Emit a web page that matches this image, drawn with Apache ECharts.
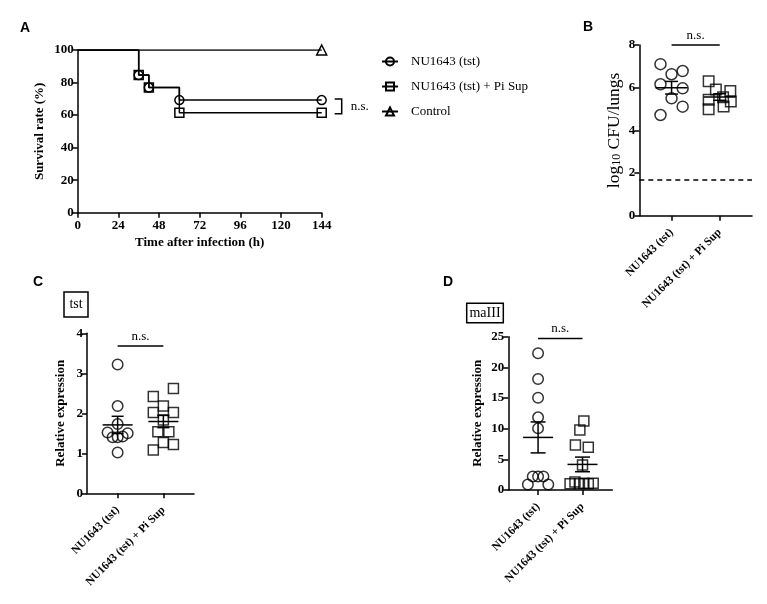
<!DOCTYPE html>
<html>
<head>
<meta charset="utf-8">
<script src="https://cdn.jsdelivr.net/npm/echarts@6/dist/echarts.min.js"></script>
<style>html,body{margin:0;padding:0;background:#fff}#c{width:767px;height:604px}</style>
</head>
<body>
<div id="c"></div>
<script>
// ---------- DATA ----------
const groupNames = ['NU1643 (tst)', 'NU1643 (tst) + Pi Sup'];
const survNames = ['NU1643 (tst)', 'NU1643 (tst) + Pi Sup', 'Control'];
const survTime = [0, 36, 42, 60, 144];
const survTst = [100, 84.6, 76.9, 69.2, 69.2];
const survPi = [100, 84.6, 76.9, 61.5, 61.5];
const ctrlTime = [0, 144];
const ctrlVal = [100, 100];
const survTicks = [0, 24, 48, 72, 96, 120, 144];

const bTstVals = [7.10, 6.63, 6.78, 6.16, 5.97, 5.50, 5.11, 4.72];
const bTstJit = [-0.23, 0, 0.23, -0.23, 0.23, 0, 0.23, -0.23];
const bPiVals = [6.30, 5.91, 5.85, 5.43, 5.55, 4.99, 5.12, 5.35];
const bPiJit = [-0.23, -0.08, 0.22, -0.23, 0.07, -0.23, 0.08, 0.23];
const bDetect = 1.7;

const cTstVals = [3.22, 2.18, 1.73, 1.52, 1.40, 1.40, 1.42, 1.50, 1.02];
const cTstJit = [0, 0, 0, -0.22, -0.11, 0, 0.11, 0.22, 0];
const cPiVals = [2.42, 2.62, 2.18, 2.02, 2.02, 1.83, 1.54, 1.54, 1.27, 1.22, 1.08];
const cPiJit = [-0.22, 0.22, 0, -0.22, 0.22, 0, -0.12, 0.12, 0, 0.22, -0.22];

const dTstVals = [22.3, 18.1, 15.05, 11.85, 10.05, 2.2, 2.2, 2.2, 0.9, 0.9];
const dTstJit = [0, 0, 0, 0, 0, -0.12, 0, 0.12, -0.23, 0.23];
const dPiVals = [11.25, 9.78, 7.34, 6.96, 4.07, 1.0, 1.3, 1.0, 1.1, 1.0, 1.1];
const dPiJit = [0.03, -0.06, -0.16, 0.13, 0, -0.28, -0.17, -0.07, 0.03, 0.13, 0.24];

// ---------- HELPERS ----------
const SERIF = "'Liberation Serif','Times New Roman',serif";
const SANS = "'Liberation Sans',Arial,sans-serif";
const BLACK = '#000';
function meanSem(a) {
  const n = a.length, m = a.reduce((s, v) => s + v, 0) / n;
  const sd = Math.sqrt(a.reduce((s, v) => s + (v - m) * (v - m), 0) / (n - 1));
  return [m, sd / Math.sqrt(n)];
}
function pts(center, jit, vals) { return vals.map((v, i) => [center + jit[i], v]); }

const lineAxis = {lineStyle: {color: BLACK, width: 1.5}};
const tickStyle = {show: true, length: 5, lineStyle: {color: BLACK, width: 1.5}};
const boldLbl = {color: BLACK, fontFamily: SERIF, fontWeight: 'bold', fontSize: 13};

function yAx(grid, max, interval, name, nameGap, nameStyle) {
  return {
    type: 'value', gridIndex: grid, min: 0, max: max, interval: interval,
    axisLine: {show: true, ...lineAxis}, axisTick: tickStyle,
    axisLabel: {...boldLbl, margin: 4}, splitLine: {show: false},
    name: name, nameLocation: 'middle', nameGap: nameGap, nameRotate: 90,
    nameTextStyle: nameStyle
  };
}
function catAx(grid) {
  return {
    type: 'value', gridIndex: grid, min: 0.33, max: 2.67,
    axisLine: {show: true, onZero: false, ...lineAxis},
    axisTick: {...tickStyle, customValues: [1, 2]},
    axisLabel: {...boldLbl, fontSize: 11.5, rotate: 45, margin: 15, customValues: [1, 2],
      formatter: v => (Math.abs(v - 1) < 0.01 ? groupNames[0] : groupNames[1])},
    splitLine: {show: false}
  };
}
function scatter(grid, data, sym, size) {
  return {
    type: 'scatter', xAxisIndex: grid, yAxisIndex: grid, data: data, symbol: sym, symbolSize: size,
    itemStyle: {color: 'rgba(0,0,0,0)', borderColor: BLACK, borderWidth: 1.5},
    emphasis: {disabled: true}, silent: true, z: 3
  };
}
function errBars(grid, groups, meanHalf, capHalf) {
  return {
    type: 'custom', xAxisIndex: grid, yAxisIndex: grid, silent: true, z: 5,
    data: groups.map((g, i) => { const ms = meanSem(g); return [i + 1, ms[0], ms[1]]; }),
    renderItem: (params, api) => {
      const x = api.value(0), m = api.value(1), s = api.value(2);
      const c = api.coord([x, m]), t = api.coord([x, m + s]), b = api.coord([x, m - s]);
      const st = {stroke: BLACK, lineWidth: 1.5};
      return {type: 'group', children: [
        {type: 'line', shape: {x1: c[0] - meanHalf, y1: c[1], x2: c[0] + meanHalf, y2: c[1]}, style: st},
        {type: 'line', shape: {x1: c[0], y1: t[1], x2: c[0], y2: b[1]}, style: st},
        {type: 'line', shape: {x1: c[0] - capHalf, y1: t[1], x2: c[0] + capHalf, y2: t[1]}, style: st},
        {type: 'line', shape: {x1: c[0] - capHalf, y1: b[1], x2: c[0] + capHalf, y2: b[1]}, style: st}
      ]};
    }
  };
}
function sigLine(grid, yVal) {
  return {
    type: 'custom', xAxisIndex: grid, yAxisIndex: grid, silent: true, z: 5,
    data: [[1, 2, yVal]],
    renderItem: (params, api) => {
      const p1 = api.coord([api.value(0), api.value(2)]), p2 = api.coord([api.value(1), api.value(2)]);
      return {type: 'group', children: [
        {type: 'line', shape: {x1: p1[0], y1: p1[1], x2: p2[0], y2: p2[1]}, style: {stroke: BLACK, lineWidth: 1.5}},
        {type: 'text', style: {text: 'n.s.', x: (p1[0] + p2[0]) / 2, y: p1[1] - 3, align: 'center', verticalAlign: 'bottom',
          fill: BLACK, font: '13px ' + SERIF}}
      ]};
    }
  };
}
function survSeries(name, times, vals, sym, size, markerFrom) {
  return {
    name: name, type: 'line', step: 'end', xAxisIndex: 0, yAxisIndex: 0,
    data: times.map((t, i) => ({value: [t, vals[i]], symbol: i < markerFrom ? 'none' : sym})),
    symbol: sym, symbolSize: size, showSymbol: true,
    lineStyle: {color: BLACK, width: 1.5},
    itemStyle: {color: 'rgba(0,0,0,0)', borderColor: BLACK, borderWidth: 1.5},
    emphasis: {disabled: true}, silent: true, z: 3
  };
}

const chart = echarts.init(document.getElementById('c'), null, {renderer: 'canvas'});
const option = {
  animation: false,
  backgroundColor: '#fff',
  grid: [
    {left: 77.7, top: 50, width: 244, height: 162.7},
    {left: 639.3, top: 45, width: 112.7, height: 170.7},
    {left: 87, top: 333.3, width: 107, height: 160},
    {left: 508.3, top: 336.7, width: 104, height: 153.3}
  ],
  legend: {
    orient: 'vertical', left: 381, top: 55, padding: 0, itemWidth: 16, itemHeight: 10, itemGap: 12,
    data: survNames, selectedMode: false,
    textStyle: {fontFamily: SERIF, fontSize: 13, color: BLACK, padding: [0, 0, 0, 8]}
  },
  xAxis: [
    {type: 'value', gridIndex: 0, min: 0, max: 144, interval: 24,
     axisLine: {show: true, ...lineAxis}, axisTick: tickStyle,
     axisLabel: {...boldLbl, margin: 6, customValues: survTicks}, splitLine: {show: false},
     name: 'Time after infection (h)', nameLocation: 'middle', nameGap: 23,
     nameTextStyle: {...boldLbl}},
    catAx(1), catAx(2), catAx(3)
  ],
  yAxis: [
    yAx(0, 100, 20, 'Survival rate (%)', 32, {...boldLbl}),
    yAx(1, 8, 2, '{a|log}{s|10}{a| CFU/lungs}', 16, {fontFamily: SERIF, color: BLACK,
      rich: {a: {fontSize: 17.5, fontFamily: SERIF, color: BLACK, lineHeight: 21, verticalAlign: 'bottom'},
             s: {fontSize: 12, fontFamily: SERIF, color: BLACK, lineHeight: 15, verticalAlign: 'bottom', padding: [6, 0, 0, 0]}}}),
    yAx(2, 4, 1, 'Relative expression', 20, {...boldLbl}),
    yAx(3, 25, 5, 'Relative expression', 24, {...boldLbl})
  ],
  series: [
    survSeries(survNames[1], survTime, survPi, 'rect', 9, 1),
    survSeries(survNames[0], survTime, survTst, 'circle', 9, 1),
    survSeries(survNames[2], ctrlTime, ctrlVal, 'triangle', 10, 1),
    {
      type: 'custom', xAxisIndex: 0, yAxisIndex: 0, silent: true, z: 5,
      data: [[144, survTst[4], survPi[4]]],
      renderItem: (params, api) => {
        const a = api.coord([api.value(0), api.value(1)]), b = api.coord([api.value(0), api.value(2)]);
        const x0 = a[0] + 13, x1 = a[0] + 20;
        const st = {stroke: BLACK, lineWidth: 1.5, fill: null};
        return {type: 'group', children: [
          {type: 'polyline', shape: {points: [[x0, a[1] - 1], [x1, a[1] - 1], [x1, b[1] + 1], [x0, b[1] + 1]]}, style: st},
          {type: 'text', style: {text: 'n.s.', x: x1 + 9, y: (a[1] + b[1]) / 2, verticalAlign: 'middle', fill: BLACK, font: '13px ' + SERIF}}
        ]};
      }
    },
    // Panel B
    scatter(1, pts(1, bTstJit, bTstVals), 'circle', 11),
    scatter(1, pts(2, bPiJit, bPiVals), 'rect', 10.5),
    errBars(1, [bTstVals, bPiVals], 16, 6.5),
    sigLine(1, 8),
    {type: 'line', xAxisIndex: 1, yAxisIndex: 1, data: [], silent: true,
     markLine: {silent: true, symbol: 'none', label: {show: false},
       lineStyle: {color: BLACK, type: [5, 4], width: 1.5}, data: [{yAxis: bDetect}]}},
    // Panel C
    scatter(2, pts(1, cTstJit, cTstVals), 'circle', 10.5),
    scatter(2, pts(2, cPiJit, cPiVals), 'rect', 10),
    errBars(2, [cTstVals, cPiVals], 15, 6),
    sigLine(2, 3.68),
    // Panel D
    scatter(3, pts(1, dTstJit, dTstVals), 'circle', 10.5),
    scatter(3, pts(2, dPiJit, dPiVals), 'rect', 10),
    errBars(3, [dTstVals, dPiVals], 15, 7.5),
    sigLine(3, 24.7)
  ],
  graphic: [
    {type: 'text', left: 20, top: 21, style: {text: 'A', font: 'bold 14px ' + SANS, fill: BLACK}},
    {type: 'text', left: 583, top: 20, style: {text: 'B', font: 'bold 14px ' + SANS, fill: BLACK}},
    {type: 'text', left: 33, top: 275, style: {text: 'C', font: 'bold 14px ' + SANS, fill: BLACK}},
    {type: 'text', left: 443, top: 275, style: {text: 'D', font: 'bold 14px ' + SANS, fill: BLACK}},
    {type: 'rect', shape: {x: 64, y: 292, width: 24, height: 25}, style: {fill: null, stroke: BLACK, lineWidth: 1.5}},
    {type: 'text', x: 76, y: 304.5, style: {text: 'tst', align: 'center', verticalAlign: 'middle', font: '14px ' + SERIF, fill: BLACK}},
    {type: 'rect', shape: {x: 466.7, y: 303.3, width: 36.6, height: 19.4}, style: {fill: null, stroke: BLACK, lineWidth: 1.5}},
    {type: 'text', x: 485, y: 313, style: {text: 'maIII', align: 'center', verticalAlign: 'middle', font: '14px ' + SERIF, fill: BLACK}}
  ]
};
chart.setOption(option);
</script>
</body>
</html>
